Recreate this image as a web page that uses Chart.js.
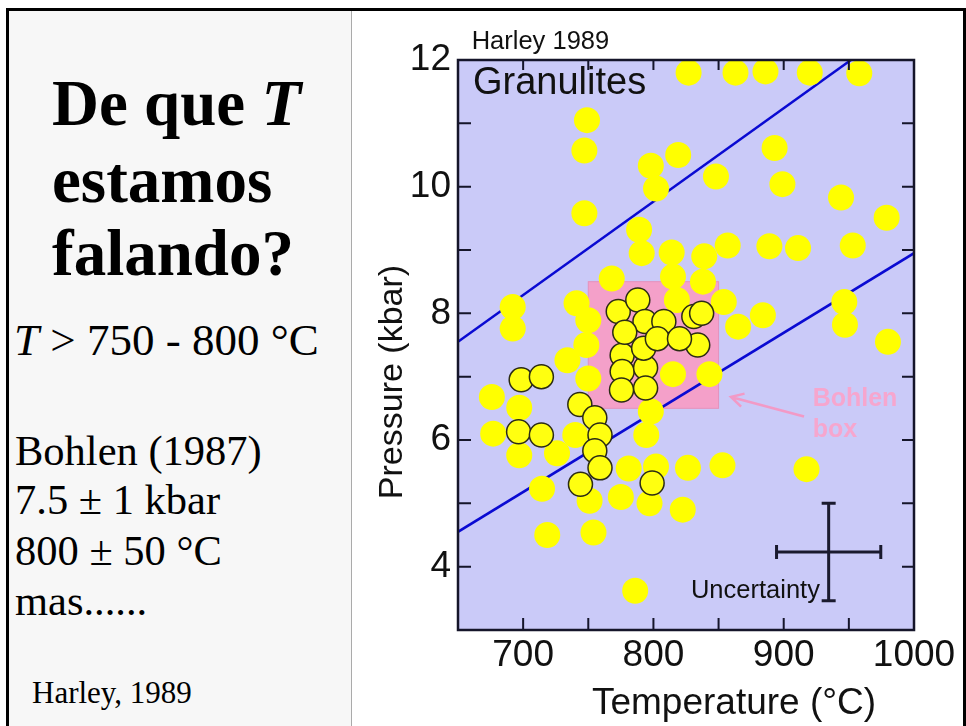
<!DOCTYPE html>
<html lang="pt">
<head>
  <meta charset="UTF-8" />
  <title>De que T estamos falando?</title>
  <script src="https://cdn.jsdelivr.net/npm/chart.js"></script>
  <style>
    html, body { margin: 0; padding: 0; }
    body {
      width: 966px; height: 726px; position: relative; overflow: hidden;
      background: #fff; color: #000;
      font-family: "Liberation Serif", "Times New Roman", serif;
    }
    #moldura {
      position: absolute; left: 6px; top: 8px; width: 960px; height: 740px;
      box-sizing: border-box; border: 3px solid #000; border-bottom: none;
    }
    #painel {
      position: absolute; left: 9px; top: 11px; width: 342px; height: 715px;
      background: #f7f7f7; border-right: 1px solid #aaa;
    }
    .linha { position: absolute; white-space: nowrap; line-height: 1; }
    .titulo { font-size: 65px; font-weight: bold; }
    .texto { font-size: 42.5px; }
    #grafico { position: absolute; left: 0; top: 0; }
  </style>
</head>
<body>
  <div id="moldura"></div>
  <div id="painel"></div>

  <div class="linha titulo" style="left:52px; top:71px">De que <i>T</i></div>
  <div class="linha titulo" style="left:52px; top:148px">estamos</div>
  <div class="linha titulo" style="left:52px; top:221px">falando?</div>
  <div class="linha" style="left:14px; top:318px; font-size:45px"><i>T</i> &gt; 750 - 800 °C</div>
  <div class="linha texto" style="left:15px; top:430px">Bohlen (1987)</div>
  <div class="linha texto" style="left:15px; top:479px">7.5 ± 1 kbar</div>
  <div class="linha texto" style="left:15px; top:530px">800 ± 50 °C</div>
  <div class="linha texto" style="left:15px; top:580px">mas......</div>
  <div class="linha" style="left:32px; top:677px; font-size:31px">Harley, 1989</div>

  <canvas id="grafico" width="966" height="726"></canvas>

  <script>
    // eixos
    const xTickLabels = [700, 800, 900, 1000];
    const yTickLabels = [4, 6, 8, 10, 12];
    const xMarks = [700, 750, 800, 850, 900, 950];
    const yMarks = [4, 5, 6, 7, 8, 9, 10, 11];

    // granulitos (pontos amarelos)
    const granT = [749, 747, 747, 798, 802, 819, 827, 789, 791, 814, 815, 818, 768, 741, 750, 748.5, 692, 692,
                   863, 886, 920, 958, 893, 848, 899, 944, 979, 857, 889, 911, 953, 839, 838, 854, 884, 865, 946.5, 947, 980,
                   676, 697, 677, 697, 726, 740, 734, 750, 714.5, 751, 718.5, 754, 786, 775, 781, 797, 802, 798, 794.5, 815, 826.5, 822.5,
                   843, 853, 917.5];
    const granP = [11.05, 10.57, 9.58, 10.33, 9.97, 10.5, 11.8, 9.32, 8.95, 8.96, 8.58, 8.21, 8.55, 8.16, 7.89, 7.5, 8.1, 7.76,
                   11.8, 11.82, 11.8, 11.79, 10.61, 10.16, 10.04, 9.83, 9.51, 9.07, 9.06, 9.03, 9.07, 8.9, 8.5, 8.18, 7.97, 7.79, 8.18, 7.82, 7.55,
                   6.68, 6.51, 6.1, 5.76, 5.79, 6.08, 7.26, 6.97, 5.23, 5.04, 4.5, 4.54, 3.62, 5.1, 5.55, 5.0, 5.58, 6.45, 6.08, 7.04, 5.56, 4.9,
                   7.04, 5.6, 5.54];

    // pontos com contorno
    const destaqueT = [698.5, 714, 696.5, 714, 743.5, 755, 759, 755, 759, 744, 799, 776, 776, 775.5, 794, 794, 792.5,
                       773, 788, 793.5, 808, 778, 803, 831, 837, 834, 820];
    const destaqueP = [6.95, 7.0, 6.13, 6.08, 6.56, 6.35, 6.08, 5.83, 5.56, 5.3, 5.32, 7.34, 7.08, 6.79, 7.14, 6.82, 7.45,
                       8.03, 8.21, 7.87, 7.87, 7.7, 7.6, 7.95, 8.0, 7.5, 7.6];

    // gradientes (retas azuis)
    const retaSupT = [650, 951.6];
    const retaSupP = [7.55, 12];
    const retaInfT = [650, 1000];
    const retaInfP = [4.55, 8.95];

    // caixa de Bohlen e barra de incerteza
    const caixaT = [750, 850];
    const caixaP = [6.5, 8.5];
    const incertezaT = [934.5, 40];
    const incertezaP = [4.23, 0.77];

    const sans = '"Liberation Sans", Arial, Helvetica, sans-serif';
    const escuro = '#15152a';

    const pares = (xs, ys) => xs.map((v, i) => ({ x: v, y: ys[i] }));

    const fundo = {
      id: 'fundo',
      beforeDatasetsDraw(chart) {
        const { ctx, chartArea: a, scales: { x, y } } = chart;
        ctx.save();
        ctx.fillStyle = '#cacaf8';
        ctx.fillRect(a.left, a.top, a.width, a.height);
        const x0 = x.getPixelForValue(caixaT[0]), x1 = x.getPixelForValue(caixaT[1]);
        const y0 = y.getPixelForValue(caixaP[1]), y1 = y.getPixelForValue(caixaP[0]);
        ctx.fillStyle = '#f4a0c9';
        ctx.fillRect(x0, y0, x1 - x0, y1 - y0);
        ctx.strokeStyle = '#e592bd';
        ctx.lineWidth = 1;
        ctx.strokeRect(x0, y0, x1 - x0, y1 - y0);
        ctx.restore();
      }
    };

    const anotacoes = {
      id: 'anotacoes',
      afterDatasetsDraw(chart) {
        const { ctx, chartArea: a, scales: { x, y } } = chart;
        const px = v => x.getPixelForValue(v), py = v => y.getPixelForValue(v);
        ctx.save();

        // moldura e marcas internas
        ctx.strokeStyle = escuro;
        ctx.lineWidth = 2;
        ctx.beginPath();
        xMarks.forEach(v => {
          ctx.moveTo(px(v), a.bottom); ctx.lineTo(px(v), a.bottom - 12);
          ctx.moveTo(px(v), a.top); ctx.lineTo(px(v), a.top + 10);
        });
        yMarks.forEach(v => {
          ctx.moveTo(a.left, py(v)); ctx.lineTo(a.left + 13, py(v));
          ctx.moveTo(a.right, py(v)); ctx.lineTo(a.right - 12, py(v));
        });
        ctx.stroke();
        ctx.lineWidth = 2.5;
        ctx.strokeRect(a.left, a.top, a.width, a.height);

        // barra de incerteza
        const cx = px(incertezaT[0]), cy = py(incertezaP[0]);
        const xl = px(incertezaT[0] - incertezaT[1]), xr = px(incertezaT[0] + incertezaT[1]);
        const yt = py(incertezaP[0] + incertezaP[1]), yb = py(incertezaP[0] - incertezaP[1]);
        ctx.strokeStyle = '#1a1a2e';
        ctx.lineWidth = 3;
        ctx.beginPath();
        ctx.moveTo(xl, cy); ctx.lineTo(xr, cy);
        ctx.moveTo(xl, cy - 7); ctx.lineTo(xl, cy + 7);
        ctx.moveTo(xr, cy - 7); ctx.lineTo(xr, cy + 7);
        ctx.moveTo(cx, yt); ctx.lineTo(cx, yb);
        ctx.moveTo(cx - 7, yt); ctx.lineTo(cx + 7, yt);
        ctx.moveTo(cx - 7, yb); ctx.lineTo(cx + 7, yb);
        ctx.stroke();

        // seta da caixa de Bohlen
        const ax0 = px(915.6), ay0 = py(6.37), ax1 = px(859.5), ay1 = py(6.68);
        const ang = Math.atan2(ay1 - ay0, ax1 - ax0);
        ctx.strokeStyle = '#f29ac6';
        ctx.lineWidth = 2.5;
        ctx.beginPath();
        ctx.moveTo(ax0, ay0); ctx.lineTo(ax1, ay1);
        ctx.moveTo(ax1 - 14 * Math.cos(ang - 0.5), ay1 - 14 * Math.sin(ang - 0.5));
        ctx.lineTo(ax1, ay1);
        ctx.lineTo(ax1 - 14 * Math.cos(ang + 0.5), ay1 - 14 * Math.sin(ang + 0.5));
        ctx.stroke();

        // textos do gráfico
        ctx.textAlign = 'left';
        ctx.textBaseline = 'alphabetic';
        ctx.fillStyle = '#f6a6ce';
        ctx.font = 'bold 25px ' + sans;
        ctx.fillText('Bohlen', px(922.2), py(6.53));
        ctx.fillText('box', px(922.2), py(6.05));

        ctx.fillStyle = '#111';
        ctx.font = '25.5px ' + sans;
        ctx.fillText('Uncertainty', px(828.8), py(3.5));
        ctx.fillText('Harley 1989', px(660.5), py(12.17));
        ctx.font = '38px ' + sans;
        ctx.fillText('Granulites', px(661.5), py(11.46));

        // títulos dos eixos
        ctx.font = '37px ' + sans;
        ctx.textAlign = 'center';
        ctx.fillText('Temperature (°C)', a.left + 276, a.bottom + 84);
        ctx.translate(a.left - 56, a.top + 322);
        ctx.rotate(-Math.PI / 2);
        ctx.font = '34px ' + sans;
        ctx.fillText('Pressure (kbar)', 0, 0);
        ctx.restore();
      }
    };

    const eixo = (min, max, labels, padding, fit) => ({
      type: 'linear',
      min: min,
      max: max,
      afterBuildTicks: s => { s.ticks = labels.map(v => ({ value: v })); },
      afterFit: fit,
      ticks: {
        callback: v => String(v),
        font: { size: 37, family: sans },
        color: '#111',
        padding: padding,
        maxRotation: 0,
        autoSkip: false
      },
      grid: { display: false, drawTicks: false },
      border: { display: false }
    });

    new Chart(document.getElementById('grafico'), {
      type: 'scatter',
      data: {
        datasets: [
          {
            type: 'line', data: pares(retaSupT, retaSupP),
            borderColor: '#0a0ad2', borderWidth: 2.5, pointRadius: 0, order: 3
          },
          {
            type: 'line', data: pares(retaInfT, retaInfP),
            borderColor: '#0a0ad2', borderWidth: 2.5, pointRadius: 0, order: 3
          },
          {
            data: pares(granT, granP),
            backgroundColor: '#ffff00', borderWidth: 0, pointRadius: 13, order: 2, clip: 0
          },
          {
            data: pares(destaqueT, destaqueP),
            backgroundColor: '#ffff10', borderColor: '#2b2b14', borderWidth: 1.5, pointRadius: 12, order: 1, clip: 0
          }
        ]
      },
      options: {
        responsive: false,
        animation: false,
        devicePixelRatio: 1,
        layout: { padding: { left: 353, top: 60, right: 52, bottom: 0 } },
        plugins: { legend: { display: false }, tooltip: { enabled: false } },
        scales: {
          x: eixo(650, 1000, xTickLabels, 4, s => { s.height = 96; }),
          y: eixo(3, 12, yTickLabels, 7, s => { s.width = 105; })
        }
      },
      plugins: [fundo, anotacoes]
    });
  </script>
</body>
</html>
